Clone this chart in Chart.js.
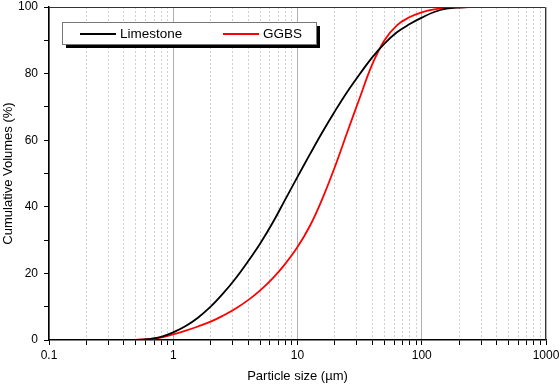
<!DOCTYPE html>
<html>
<head>
<meta charset="utf-8">
<script src="https://cdn.jsdelivr.net/npm/chart.js@4"></script>
<style>
  body { margin: 0; background: #fff; }
  canvas { display: block; }
</style>
</head>
<body>
<canvas id="psd-chart" width="559" height="386"></canvas>
<script>

// particle size distribution (analyser size classes)
const sizes = [0.4, 0.5, 0.63, 0.79, 1, 1.26, 1.58, 2, 2.51, 3.16, 3.98, 5.01, 6.31, 7.94, 10, 12.6, 15.8, 20, 25.1, 31.6, 39.8, 50.1, 63.1, 79.4, 100, 126, 158, 200, 251, 316, 355];
const limestone = [0, 0, 0.25, 0.9, 2.3, 4.2, 6.7, 10, 13.9, 18.4, 23.5, 29, 35.2, 42.1, 49, 55.8, 62.3, 68.7, 74.5, 79.8, 84.8, 89, 92.4, 94.8, 96.8, 98.5, 99.5, 99.85, 99.95, 100, 100];
const ggbs = [0, 0.05, 0.25, 0.75, 1.7, 2.8, 4.05, 5.5, 7.3, 9.4, 11.9, 14.9, 18.5, 22.8, 27.9, 34.3, 42.3, 52, 62.3, 72.6, 82.6, 90, 94.5, 96.9, 98.4, 99.3, 99.7, 99.9, 100, 100, 100];

const seriesNames = ['Limestone', 'GGBS'];
const seriesColors = ['#000000', '#ff0000'];
const decades = [0.1, 1, 10, 100, 1000];

// every 1..9 step of each decade, for ticks + minor grid
const logTicks = [];
decades.forEach(function (d, i) {
  if (i === decades.length - 1) { logTicks.push({ value: d }); return; }
  for (let k = 1; k < 10; k++) logTicks.push({ value: +(d * k).toPrecision(3) });
});

const isMajor = v => decades.some(d => Math.abs(v - d) < 1e-9);

const font = { family: 'Arial, "Liberation Sans", sans-serif' };

const data = {
  datasets: [limestone, ggbs].map(function (vals, i) {
    return {
      label: seriesNames[i],
      data: sizes.map((s, j) => ({ x: s, y: vals[j] })),
      borderColor: seriesColors[i],
      borderWidth: 1.8,
      pointRadius: 0,
      tension: 0.4,
      fill: false
    };
  })
};

// frame on top / right of the plot
const framePlugin = {
  id: 'frame',
  afterDraw(chart) {
    const { ctx, chartArea: a } = chart;
    ctx.save();
    ctx.strokeStyle = '#333';
    ctx.lineWidth = 1;
    ctx.beginPath();
    ctx.moveTo(a.left, a.top + 0.5);
    ctx.lineTo(a.right - 0.5, a.top + 0.5);
    ctx.lineTo(a.right - 0.5, a.bottom);
    ctx.stroke();
    ctx.restore();
  }
};

// boxed legend with drop shadow
const legendBoxPlugin = {
  id: 'legendBox',
  afterDraw(chart) {
    const ctx = chart.ctx;
    const x = 62, y = 22, w = 254, h = 22;
    ctx.save();
    ctx.fillStyle = '#000';
    ctx.fillRect(x + 4, y + 4, w, h);
    ctx.fillStyle = '#fff';
    ctx.fillRect(x, y, w, h);
    ctx.strokeStyle = '#777';
    ctx.lineWidth = 1;
    ctx.strokeRect(x + 0.5, y + 0.5, w, h);
    ctx.font = '13.5px ' + font.family;
    ctx.textBaseline = 'middle';
    const starts = [80, 223];
    chart.data.datasets.forEach(function (ds, i) {
      ctx.strokeStyle = ds.borderColor;
      ctx.lineWidth = 1.8;
      ctx.beginPath();
      ctx.moveTo(starts[i], y + h / 2 + 1);
      ctx.lineTo(starts[i] + 36, y + h / 2 + 1);
      ctx.stroke();
      ctx.fillStyle = '#000';
      ctx.fillText(ds.label, starts[i] + 40, y + h / 2 + 1);
    });
    ctx.restore();
  }
};

const config = {
  type: 'line',
  data: data,
  plugins: [framePlugin, legendBoxPlugin],
  options: {
    responsive: false,
    animation: false,
    layout: { padding: 0 },
    plugins: {
      legend: { display: false },
      tooltip: { enabled: false }
    },
    scales: {
      x: {
        type: 'logarithmic',
        min: 0.1,
        max: 1000,
        afterBuildTicks: s => { s.ticks = logTicks.map(t => ({ value: t.value })); },
        afterFit: s => { s.height = 46; s.paddingRight = 13; },
        ticks: {
          autoSkip: false,
          maxRotation: 0,
          padding: 3,
          color: '#000',
          font: { family: font.family, size: 12 },
          callback: v => isMajor(v) ? String(v) : ''
        },
        grid: {
          color: c => isMajor(c.tick.value) ? '#b0b0b0' : 'rgba(0,0,0,0)',
          tickColor: '#000',
          tickLength: 5,
          lineWidth: 1
        },
        border: { color: '#000', width: 1.5 },
        title: {
          display: true,
          text: 'Particle size (µm)',
          color: '#000',
          font: { family: font.family, size: 13 },
          padding: { top: 0, bottom: 2 }
        }
      },
      // second copy of the x scale, only for dotted minor grid lines
      xMinor: {
        type: 'logarithmic',
        position: 'bottom',
        min: 0.1,
        max: 1000,
        afterBuildTicks: s => { s.ticks = logTicks.map(t => ({ value: t.value })); },
        afterFit: s => { s.height = 0; s.paddingRight = 13; },
        ticks: { display: false },
        grid: {
          drawTicks: false,
          color: c => isMajor(c.tick.value) ? 'rgba(0,0,0,0)' : '#cfcfcf',
          lineWidth: 1
        },
        border: { display: false, dash: [2, 2] }
      },
      y: {
        min: 0,
        max: 100,
        afterFit: s => { s.width = 49; s.paddingTop = 7; },
        ticks: {
          stepSize: 10,
          padding: 6,
          color: '#000',
          font: { family: font.family, size: 12 },
          callback: v => v % 20 === 0 ? v : ''
        },
        grid: {
          drawOnChartArea: false,
          tickColor: '#000',
          tickLength: 5
        },
        border: { color: '#000', width: 1.5 },
        title: {
          display: true,
          text: 'Cumulative Volumes (%)',
          color: '#000',
          font: { family: font.family, size: 13 },
          padding: { top: 1, bottom: 0 }
        }
      }
    }
  }
};

const psdChart = new Chart(document.getElementById('psd-chart'), config);
</script>
</body>
</html>
